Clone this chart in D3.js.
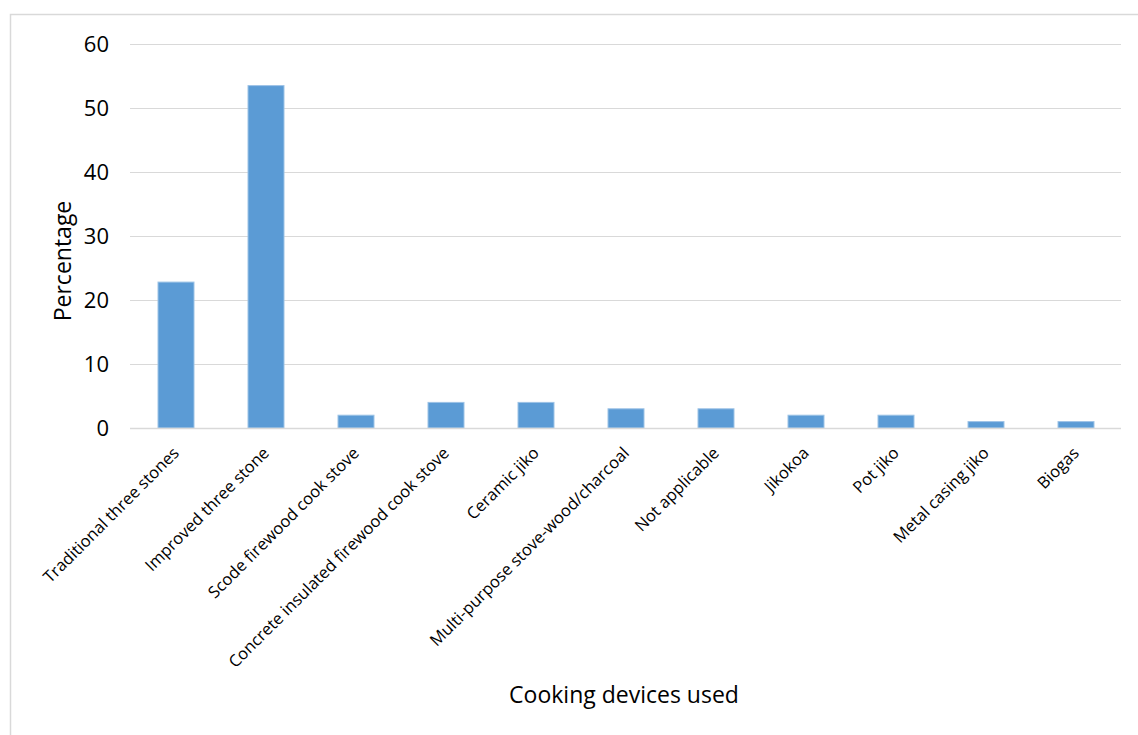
<!DOCTYPE html>
<html>
<head>
<meta charset="utf-8">
<script src="https://cdn.jsdelivr.net/npm/d3@7"></script>
<style>
  html, body { margin: 0; padding: 0; background: #fff; }
  svg { display: block; }
  text { font-family: "Open Sans", sans-serif; fill: #000; }
</style>
</head>
<body>
<div id="chart"></div>
<script>
// Cooking devices used, share of households (%)
const categories = [
  "Traditional three stones",
  "Improved three stone",
  "Scode firewood cook stove",
  "Concrete insulated firewood cook stove",
  "Ceramic jiko",
  "Multi-purpose stove-wood/charcoal",
  "Not applicable",
  "Jikokoa",
  "Pot jiko",
  "Metal casing jiko",
  "Biogas"
];
const percentages = [22.8, 53.5, 2, 4, 4, 3, 3, 2, 2, 1, 1];
const yTicks = [0, 10, 20, 30, 40, 50, 60];

const W = 1138, H = 735;
const plot = { left: 131, right: 1121, top: 44, bottom: 428 };
const FONT = "'Open Sans', sans-serif";

const svg = d3.select("#chart").append("svg")
  .attr("width", W).attr("height", H);

// chart frame
svg.append("rect")
  .attr("x", 10.5).attr("y", 14.5)
  .attr("width", W + 10).attr("height", H + 10)
  .attr("fill", "none").attr("stroke", "#D9D9D9").attr("stroke-width", 1.5);

const x = d3.scaleBand().domain(categories)
  .range([plot.left, plot.right]).paddingInner(0.6).paddingOuter(0.3);
const y = d3.scaleLinear().domain([0, 60]).range([plot.bottom, plot.top]);

// horizontal gridlines
svg.append("g").selectAll("line").data(yTicks.filter(d => d > 0)).join("line")
  .attr("x1", plot.left - 1).attr("x2", plot.right)
  .attr("y1", d => Math.round(y(d)) + 0.5).attr("y2", d => Math.round(y(d)) + 0.5)
  .attr("stroke", "#D9D9D9").attr("stroke-width", 1);

// y axis tick labels
const yAxis = d3.axisLeft(y).tickValues(yTicks).tickSize(0).tickPadding(22);
const gy = svg.append("g").attr("transform", `translate(${plot.left},0)`).call(yAxis);
gy.select(".domain").remove();
gy.selectAll("text").attr("font-size", 22).attr("font-family", FONT).attr("fill", "#000");

// bars
svg.append("g").selectAll("rect").data(percentages).join("rect")
  .attr("x", (d, i) => x(categories[i]))
  .attr("y", d => y(d))
  .attr("width", x.bandwidth())
  .attr("height", d => y(0) - y(d))
  .attr("fill", "#5B9BD5")
  .attr("stroke", "#9DC3E6").attr("stroke-width", 1);

// baseline
svg.append("line")
  .attr("x1", plot.left - 1).attr("x2", plot.right)
  .attr("y1", y(0) + 0.5).attr("y2", y(0) + 0.5)
  .attr("stroke", "#D9D9D9").attr("stroke-width", 1.5);

// x axis category labels, rotated
const xAxis = d3.axisBottom(x).tickSize(0).tickPadding(0);
const gx = svg.append("g").attr("transform", `translate(0,${plot.bottom})`).call(xAxis);
gx.select(".domain").remove();
gx.selectAll("text")
  .attr("font-size", 16.5).attr("font-family", FONT).attr("fill", "#000")
  .attr("text-anchor", "end")
  .attr("dy", "0.35em")
  .attr("transform", "translate(0,22) rotate(-45)");

// axis titles
svg.append("text")
  .attr("transform", `translate(71,${(plot.top + plot.bottom) / 2 + 25}) rotate(-90)`)
  .attr("text-anchor", "middle")
  .attr("font-size", 23)
  .text("Percentage");

svg.append("text")
  .attr("x", 624).attr("y", 703)
  .attr("text-anchor", "middle")
  .attr("font-size", 23)
  .text("Cooking devices used");
</script>
</body>
</html>
